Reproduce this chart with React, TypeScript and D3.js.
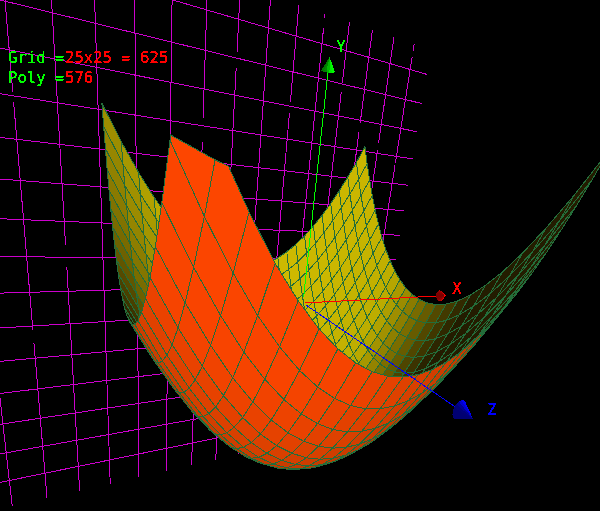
import * as d3 from 'd3'

type P3 = [number, number, number]

const WIDTH = 600
const HEIGHT = 511

// surface samples, 25 x 25 vertices; spacing widens toward the near corner
const surfaceX = [-0.856, -0.766, -0.678, -0.593, -0.509, -0.426, -0.346, -0.267, -0.19, -0.115, -0.041, 0.032, 0.103, 0.172, 0.241, 0.307, 0.373, 0.437, 0.501, 0.563, 0.624, 0.683, 0.742, 0.8, 0.856]
const surfaceZ = [-0.732, -0.684, -0.634, -0.584, -0.533, -0.481, -0.428, -0.374, -0.319, -0.263, -0.206, -0.147, -0.088, -0.027, 0.035, 0.1, 0.166, 0.233, 0.301, 0.371, 0.443, 0.516, 0.59, 0.667, 0.745]
const bowlProfileX = [0.775, 0.621, 0.487, 0.371, 0.274, 0.192, 0.127, 0.076, 0.038, 0.014, 0.002, 0.001, 0.011, 0.031, 0.061, 0.1, 0.147, 0.202, 0.265, 0.335, 0.411, 0.494, 0.582, 0.676, 0.775]
const bowlProfileZ = [0.775, 0.676, 0.582, 0.494, 0.411, 0.335, 0.265, 0.202, 0.147, 0.1, 0.061, 0.031, 0.011, 0.001, 0.002, 0.014, 0.039, 0.078, 0.131, 0.199, 0.283, 0.385, 0.504, 0.643, 0.803]
const bowlBase = -0.8

// magenta back wall
const wallZ = -1.2575
const wallRows = [1.377, 1.167, 0.957, 0.747, 0.537, 0.327, 0.117, -0.093, -0.303, -0.513, -0.723, -0.933, -1.143, -1.353, -1.563]
const wallCols = [-1.499, -1.274, -1.049, -0.824, -0.599, -0.374, -0.149, 0.076, 0.301, 0.526, 0.751, 0.976, 1.201, 1.426, 1.651]
const wallRowExtent = [-1.724, 1.851]
const wallColExtent = [-1.768, 1.552]
// breaks in the wall's columns: column index, then the y range that is missing
const wallBreaks = [
  [1, -0.621, -0.538], [1, 0.718, 0.766], [2, -0.152, -0.02], [6, 0.652, 0.793], [7, 1.112, 1.2],
  [9, 0.915, 0.984], [10, 1.47, 1.528], [11, 1.115, 1.174], [12, 0.876, 0.939], [13, 0.772, 0.824],
  [14, 0.685, 0.7], [14, 1.463, 1.503],
]

// camera: origin and vanishing points in pixels, plus depth gain per axis
const origin = [303, 303]
const vanishX = [1071, 263]
const vanishY = [150, 1718]
const vanishZ = [48, 129]
const gain = [0.217, -0.1466, -0.4]
// the near corner of the surface is cut off along this line on screen
const cutLine = [[172, 135], [237, 170]]

const axes = [
  { name: 'X', dir: [1, 0, 0], len: 1.05, color: '#ff0000', label: [457, 294] },
  { name: 'Y', dir: [0, 1, 0], len: 1.01, color: '#00ff00', label: [341, 52] },
  { name: 'Z', dir: [0, 0, 1], len: 1.0, color: '#0000ff', label: [492, 415] },
]

const depth = (p: P3) => 1 + gain[0] * p[0] + gain[1] * p[1] + gain[2] * p[2]
const project = (p: P3): [number, number] => {
  const w = depth(p)
  const u = origin[0] + gain[0] * p[0] * vanishX[0] + gain[1] * p[1] * vanishY[0] + gain[2] * p[2] * vanishZ[0]
  const v = origin[1] + gain[0] * p[0] * vanishX[1] + gain[1] * p[1] * vanishY[1] + gain[2] * p[2] * vanishZ[1]
  return [u / w, v / w]
}

const camera: P3 = [-1.107, 0.607, 1.676]
const lightDir: P3 = [-0.3, 0.35, 0.89]
const sub = (a: P3, b: P3): P3 => [a[0] - b[0], a[1] - b[1], a[2] - b[2]]
const cross = (a: P3, b: P3): P3 => [a[1] * b[2] - a[2] * b[1], a[2] * b[0] - a[0] * b[2], a[0] * b[1] - a[1] * b[0]]
const dot = (a: P3, b: P3) => a[0] * b[0] + a[1] * b[1] + a[2] * b[2]
const norm = (a: P3) => Math.sqrt(dot(a, a))

const path = d3.line()
const polyPath = (pts: P3[]) => path(pts.map(project)) + 'Z'

// keep the part of a polygon below the cut, which only touches the -x,+z corner
const nearSide = (p: P3) => {
  if (p[0] > -0.4 || p[2] < 0.3) return 1
  const [u, v] = project(p)
  const [a, b] = cutLine
  return (v - a[1]) - ((b[1] - a[1]) / (b[0] - a[0])) * (u - a[0])
}
function clipNear(poly: P3[]): P3[] {
  const out: P3[] = []
  poly.forEach((p, i) => {
    const q = poly[(i + 1) % poly.length]
    const wp = nearSide(p)
    const wq = nearSide(q)
    if (wp >= 0) out.push(p)
    if (wp >= 0 !== wq >= 0) {
      const t = wp / (wp - wq)
      out.push([p[0] + (q[0] - p[0]) * t, p[1] + (q[1] - p[1]) * t, p[2] + (q[2] - p[2]) * t])
    }
  })
  return out
}

const insideShade = d3.scaleLinear<string>().domain([0, 0.25, 0.5, 0.72, 1]).range(['#231c00', '#504600', '#8a7a00', '#bcac00', '#cdb900']).clamp(true)
const outsideShade = d3.scaleLinear<string>().domain([0, 0.3, 0.6, 1]).range(['#b03600', '#d84000', '#f84400', '#ff4700']).clamp(true)

function buildCells() {
  const cells: { d: string; fill: string; w: number }[] = []
  const vert = (i: number, j: number): P3 => [surfaceX[i], bowlBase + bowlProfileX[i] + bowlProfileZ[j], surfaceZ[j]]
  for (let i = 0; i < surfaceX.length - 1; i++) {
    for (let j = 0; j < surfaceZ.length - 1; j++) {
      const quad = [vert(i, j), vert(i + 1, j), vert(i + 1, j + 1), vert(i, j + 1)]
      const clipped = clipNear(quad)
      if (clipped.length < 3) continue
      const flat = clipped.map(project)
      const inner = d3.polygonArea(flat) < 0
      const centre: P3 = [d3.mean(quad, p => p[0])!, d3.mean(quad, p => p[1])!, d3.mean(quad, p => p[2])!]
      let n = cross(sub(quad[2], quad[0]), sub(quad[3], quad[1]))
      if (n[1] < 0) n = [-n[0], -n[1], -n[2]]
      const v = sub(camera, centre)
      const fill = inner
        ? insideShade(Math.max(0, dot(n, lightDir)) / norm(n))
        : outsideShade(Math.abs(dot(n, v)) / (norm(n) * norm(v)))
      cells.push({ d: polyPath(clipped), fill, w: depth(centre) })
    }
  }
  return cells.sort((a, b) => b.w - a.w)
}

function buildCone(dir: number[], len: number, color: string) {
  const tip: P3 = [dir[0] * len, dir[1] * len, dir[2] * len]
  const base: P3 = [dir[0] * (len - 0.05), dir[1] * (len - 0.05), dir[2] * (len - 0.05)]
  const e1: P3 = dir[1] ? [1, 0, 0] : [0, 1, 0]
  const e2 = cross(dir as P3, e1)
  const ring = d3.range(16).map(k => {
    const t = (k / 16) * 2 * Math.PI
    return [0, 1, 2].map(m => base[m] + 0.03 * (Math.cos(t) * e1[m] + Math.sin(t) * e2[m])) as P3
  })
  const col = d3.rgb(color)
  const facets = ring.map((p, k) => {
    const q = ring[(k + 1) % 16]
    const mid = [project(p)[0] + project(q)[0], project(p)[1] + project(q)[1]]
    const centre = project(base)
    const lit = 0.72 + 0.28 * Math.tanh((mid[0] / 2 - centre[0]) / 3)
    return { d: polyPath([p, q, tip]), fill: d3.rgb(col.r * lit, col.g * lit, col.b * lit).formatHex(), w: depth(p) }
  })
  return [{ d: polyPath(ring), fill: d3.rgb(col.r * 0.9, col.g * 0.9, col.b * 0.9).formatHex(), w: 99 }, ...facets].sort((a, b) => b.w - a.w)
}

// a column of the wall, split where the picture has a break
function colPath(x: number, col: number) {
  const breaks = wallBreaks.filter(b => b[0] === col).sort((a, b) => a[1] - b[1])
  const stops = [wallColExtent[0], ...breaks.flatMap(b => [b[1], b[2]]), wallColExtent[1]]
  return d3.range(0, stops.length, 2)
    .map(k => path([project([x, stops[k], wallZ]), project([x, stops[k + 1], wallZ])]))
    .join('')
}

const lineProps = { fill: 'none', shapeRendering: 'crispEdges' as const }
const textStyle = { fontFamily: '"DejaVu Sans Mono", monospace', fontSize: 15.6, filter: 'url(#crisp)' }

export default function App() {
  const cells = buildCells()
  return (
    <svg width={WIDTH} height={HEIGHT} style={{ position: 'absolute', left: 0, top: 0, background: '#000', display: 'block' }}>
      <defs>
        <filter id="crisp" x="-10%" y="-30%" width="120%" height="160%">
          <feComponentTransfer>
            <feFuncA type="discrete" tableValues="0 1 1 1" />
          </feComponentTransfer>
        </filter>
      </defs>
      <g stroke="#cc00cc" {...lineProps}>
        {wallRows.map(y => (
          <path key={y} d={path([project([wallRowExtent[0], y, wallZ]), project([wallRowExtent[1], y, wallZ])])!} />
        ))}
        {wallCols.map((x, i) => (
          <path key={x} d={colPath(x, i)} />
        ))}
      </g>
      <g stroke="#236d3a" shapeRendering="crispEdges">
        {cells.map((c, i) => (
          <path key={i} d={c.d} fill={c.fill} />
        ))}
      </g>
      {axes.map(a => (
        <g key={a.name}>
          <path
            d={path([project([a.dir[0] * 0.01, a.dir[1] * 0.03, a.dir[2] * 0.03]), project([a.dir[0] * a.len, a.dir[1] * a.len, a.dir[2] * a.len])])!}
            stroke={a.color}
            {...lineProps}
          />
          <g shapeRendering="crispEdges">
            {buildCone(a.dir, a.len, a.color).map((f, i) => (
              <path key={i} d={f.d} fill={f.fill} />
            ))}
          </g>
          <text x={a.label[0]} y={a.label[1]} textAnchor="middle" fill={a.color} style={textStyle}>{a.name}</text>
        </g>
      ))}
      <text x={8} y={63} fill="#00ff00" style={textStyle}>Grid =</text>
      <text x={65} y={63} fill="#ff0000" style={textStyle}>25x25 = 625</text>
      <text x={8} y={83} fill="#00ff00" style={textStyle}>Poly =</text>
      <text x={65} y={83} fill="#ff0000" style={textStyle}>576</text>
    </svg>
  )
}
